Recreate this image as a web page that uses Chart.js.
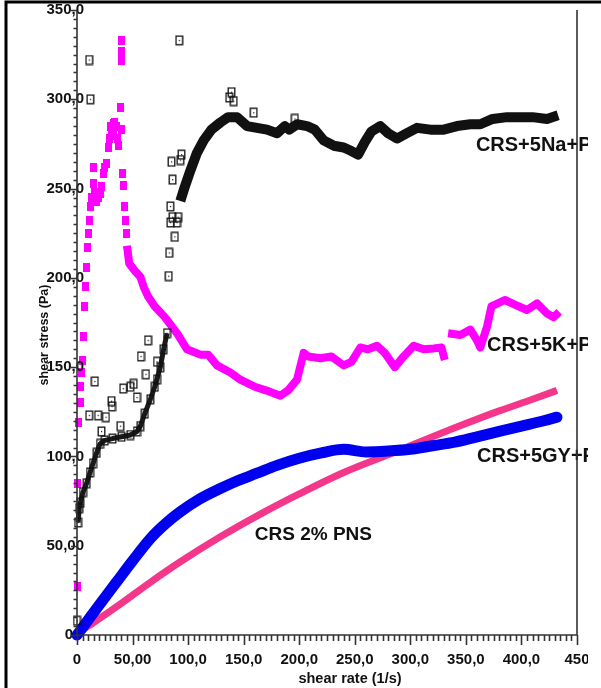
<!DOCTYPE html>
<html>
<head>
<meta charset="utf-8">
<script src="https://cdn.jsdelivr.net/npm/chart.js@4.4.1/dist/chart.umd.min.js"></script>
<style>
  body { margin: 0; background: #fff; }
  canvas { display: block; }
</style>
</head>
<body>
<canvas id="chart" width="601" height="688"></canvas>
<script>
// Tick labels as printed on the original plot
const xTickValues = [0, 50, 100, 150, 200, 250, 300, 350, 400, 450];
const xTickLabels = ['0', '50,00', '100,0', '150,0', '200,0', '250,0', '300,0', '350,0', '400,0', '450'];
const yTickValues = [0, 50, 100, 150, 200, 250, 300, 350];
const yTickLabels = ['0', '50,00', '100,0', '150,0', '200,0', '250,0', '300,0', '350,0'];

// CRS+5Na+P (black open squares)
const naLowX = [1, 2, 3, 5.4, 8.7, 11.7, 14.4, 17.7, 20.7, 25, 32, 40, 48, 54, 57, 61, 66, 70, 75, 78, 81];
const naLowY = [63, 71, 74, 80, 85, 91, 96, 102, 107, 109, 110, 111, 112, 114, 117, 124, 132, 139, 150, 160, 169];
const naHighX = [93, 97, 102, 108, 114, 121, 129, 136, 144, 153, 162, 171, 180, 187, 191, 198, 207, 214, 222, 231, 240, 247, 253, 259, 265, 273, 280, 288, 297, 306, 318, 330, 342, 354, 363, 374, 387, 399, 410, 423, 433];
const naHighY = [243, 251, 260, 270, 277, 283, 287, 290, 290, 285, 284, 283, 281, 285, 283, 286, 285, 283, 277, 274, 273, 271, 269, 276, 282, 285, 281, 278, 281, 284, 283, 283, 285, 286, 286, 289, 290, 290, 290, 289, 291];
const naOutX = [0, 11, 12, 16, 11, 19, 26, 31, 31.5, 22, 39, 41.6, 48, 51, 54, 57.6, 62, 64, 72, 72, 92, 83, 82.5, 85, 86, 93, 94, 84, 88, 90, 91, 84, 86, 139, 141, 137, 159, 196];
const naOutY = [8, 322, 300, 142, 123, 123, 122, 131, 128, 114, 117, 138, 139, 140.6, 133, 156, 146, 165, 153, 143, 333, 214, 201, 265, 255, 266, 269, 240, 223, 231, 234, 231, 234, 304, 299, 301, 292.5, 289];

// CRS+5K+P (magenta filled squares)
const kRiseX = [0, 0, 1.2, 2.7, 2.7, 4, 5, 5.7, 6.5, 7.2, 8.7, 9.3, 10, 11, 11.7, 13, 14.7, 14.7, 16, 17.7, 19, 20.7, 22, 23.7, 25, 26.7, 28, 29, 30, 31, 32.7, 33, 34, 35.7, 36, 37, 38.7, 40, 40, 40, 39.6, 41, 42, 42.6, 43.5, 44.7];
const kRiseY = [27, 85, 119, 130, 139, 147, 154, 167, 184, 195, 206, 217, 225, 232, 240, 245, 253, 262, 248, 243, 245, 247.5, 251, 258.5, 262, 264, 273, 278, 285, 281, 286.5, 280, 287, 285, 278, 274, 295.5, 283, 322, 327, 333, 258.5, 252, 240, 232, 225];
const kFallX = [45, 47, 52, 57, 60, 64, 70, 79, 90, 99, 111, 118, 126, 138, 147, 160, 170, 183, 190, 198, 204, 208, 219, 229, 240, 247, 255, 262, 270, 277, 286, 294, 303, 312, 321, 328, 331];
const kFallY = [218, 208, 204, 200.6, 195, 189.5, 184, 178, 169, 160, 157, 157, 151, 147, 143, 139, 137, 134, 137, 143, 158, 156, 155, 156, 151, 153, 161, 160, 162, 158, 150, 156, 162, 160, 160.5, 161, 154];
const kEndX = [334, 345, 354, 360, 363, 369, 373, 385, 394, 405, 414, 423, 429, 434];
const kEndY = [169, 168, 171, 165, 161, 172.6, 184, 187.6, 185, 182, 185.7, 180, 178, 181];

// CRS+5GY+P (blue)
const gyX = [0, 6, 20, 36, 50, 66, 80, 93, 110, 129, 145, 162, 180, 200, 220, 240, 260, 280, 300, 320, 340, 360, 380, 400, 420, 432];
const gyY = [0, 5, 16.8, 30, 41.5, 54, 62.5, 69, 76, 82, 86.5, 90.6, 95, 99, 102, 104, 102.5, 103, 104, 106, 108, 111, 114, 117, 120, 122];

// CRS 2% PNS (pink)
const pnsX = [0, 15, 36, 66, 93, 129, 163, 200, 240, 280, 300, 340, 380, 410, 432];
const pnsY = [1, 7, 16, 29.5, 41, 55, 67, 79, 91, 101, 106, 116, 125.5, 132, 137];

const seriesLabels = [
  { text: 'CRS+5Na+P', x: 359, y: 274, size: 20 },
  { text: 'CRS+5K+P', x: 369, y: 162, size: 20 },
  { text: 'CRS+5GY+P', x: 360, y: 100, size: 20 },
  { text: 'CRS 2% PNS', x: 160, y: 56, size: 19 }
];

const pts = (xs, ys) => xs.map((x, i) => ({ x: x, y: ys[i] }));

// marker images
const makeMarker = (w, h, draw) => {
  const c = document.createElement('canvas');
  c.width = w; c.height = h;
  draw(c.getContext('2d'));
  return c;
};
const openBox = makeMarker(9, 11, (g) => {
  g.strokeStyle = '#111';
  g.lineWidth = 1.3;
  g.strokeRect(1.2, 1.2, 6.6, 8.6);
  g.fillStyle = '#111';
  g.fillRect(4, 5, 1.2, 1.2);
});
const magentaBox = makeMarker(7, 9, (g) => {
  g.fillStyle = '#ff00ff';
  g.fillRect(0, 0, 7, 9);
});

const FONT = '"Liberation Sans", Arial, sans-serif';

const framePlugin = {
  id: 'frame',
  afterDatasetsDraw(chart) {
    const ctx = chart.ctx;
    const xs = chart.scales.x;
    const ys = chart.scales.y;
    const a = chart.chartArea;
    ctx.save();

    // series labels and tick labels, clipped like the original crop
    ctx.beginPath();
    ctx.rect(0, 0, 588, 688);
    ctx.clip();
    ctx.fillStyle = '#111';
    ctx.textAlign = 'left';
    ctx.textBaseline = 'middle';
    seriesLabels.forEach((l) => {
      ctx.font = 'bold ' + l.size + 'px ' + FONT;
      ctx.fillText(l.text, xs.getPixelForValue(l.x), ys.getPixelForValue(l.y));
    });

    ctx.font = 'bold 15px ' + FONT;
    ctx.textAlign = 'right';
    yTickValues.forEach((v, i) => {
      const right = v === 0 ? a.left - 4 : a.left + 7;
      ctx.fillText(yTickLabels[i], right, ys.getPixelForValue(v));
    });
    ctx.textAlign = 'center';
    xTickValues.forEach((v, i) => {
      ctx.fillText(xTickLabels[i], xs.getPixelForValue(v), a.bottom + 25);
    });

    ctx.font = 'bold 14.5px ' + FONT;
    ctx.fillText('shear rate (1/s)', 350, 679);
    ctx.save();
    ctx.translate(45, 335);
    ctx.rotate(-Math.PI / 2);
    ctx.font = 'bold 12.5px ' + FONT;
    ctx.fillText('shear stress (Pa)', 0, 0);
    ctx.restore();
    ctx.restore();

    // axes and ticks
    ctx.save();
    ctx.strokeStyle = '#333';
    ctx.lineWidth = 1.6;
    ctx.beginPath();
    ctx.moveTo(a.left, a.top);
    ctx.lineTo(a.left, a.bottom);
    ctx.lineTo(a.right, a.bottom);
    ctx.moveTo(a.right, a.top);
    ctx.lineTo(a.right, a.bottom);
    for (let v = 0; v <= 350; v += 5) {
      const py = Math.round(ys.getPixelForValue(v)) + 0.5;
      ctx.moveTo(a.left, py);
      ctx.lineTo(a.left - (v % 50 === 0 ? 6 : 3.5), py);
    }
    for (let v = 0; v <= 450; v += 5) {
      const px = Math.round(xs.getPixelForValue(v)) + 0.5;
      ctx.moveTo(px, a.bottom);
      ctx.lineTo(px, a.bottom + (v % 50 === 0 ? 10 : 6));
    }
    ctx.stroke();

    // outer border
    ctx.strokeStyle = '#000';
    ctx.lineWidth = 3;
    ctx.beginPath();
    ctx.moveTo(601, 2);
    ctx.lineTo(6, 2);
    ctx.lineTo(6, 688);
    ctx.stroke();
    ctx.restore();
  }
};

const ctx = document.getElementById('chart').getContext('2d');
const chart = new Chart(ctx, {
  type: 'scatter',
  data: {
    datasets: [
      { label: 'CRS+5Na+P out', data: pts(naOutX, naOutY), pointStyle: openBox, showLine: false, order: 1 },
      { label: 'CRS+5Na+P low', data: pts(naLowX, naLowY), pointStyle: openBox, showLine: true,
        borderColor: '#1a1a1a', borderWidth: 5, order: 2 },
      { label: 'CRS+5Na+P', data: pts(naHighX, naHighY), showLine: true, pointRadius: 0,
        borderColor: '#111', borderWidth: 10, order: 2 },
      { label: 'CRS+5K+P rise', data: pts(kRiseX, kRiseY), pointStyle: magentaBox, showLine: false, order: 3 },
      { label: 'CRS+5K+P', data: pts(kFallX, kFallY), showLine: true, pointRadius: 0,
        borderColor: '#ff00ff', borderWidth: 8, order: 3 },
      { label: 'CRS+5K+P end', data: pts(kEndX, kEndY), showLine: true, pointRadius: 0,
        borderColor: '#ff00ff', borderWidth: 8, order: 3 },
      { label: 'CRS+5GY+P', data: pts(gyX, gyY), showLine: true, pointRadius: 0,
        borderColor: '#0000f0', borderWidth: 11, borderCapStyle: 'round',
        cubicInterpolationMode: 'monotone', order: 4 },
      { label: 'CRS 2% PNS', data: pts(pnsX, pnsY), showLine: true, pointRadius: 0,
        borderColor: '#f4378a', borderWidth: 7, cubicInterpolationMode: 'monotone', order: 5 }
    ]
  },
  options: {
    responsive: false,
    devicePixelRatio: 1,
    animation: false,
    clip: false,
    layout: { padding: { left: 0, top: 10, right: 24, bottom: 0 } },
    elements: {
      point: { radius: 4, hoverRadius: 4 },
      line: { tension: 0, borderJoinStyle: 'round' }
    },
    plugins: { legend: { display: false }, tooltip: { enabled: false } },
    scales: {
      x: {
        type: 'linear', min: 0, max: 450,
        ticks: { display: false, stepSize: 50 },
        grid: { display: false }, border: { display: false },
        afterFit: (s) => { s.height = 53; }
      },
      y: {
        type: 'linear', min: 0, max: 350,
        ticks: { display: false, stepSize: 50 },
        grid: { display: false }, border: { display: false },
        afterFit: (s) => { s.width = 77; }
      }
    }
  },
  plugins: [framePlugin]
});
</script>
</body>
</html>
